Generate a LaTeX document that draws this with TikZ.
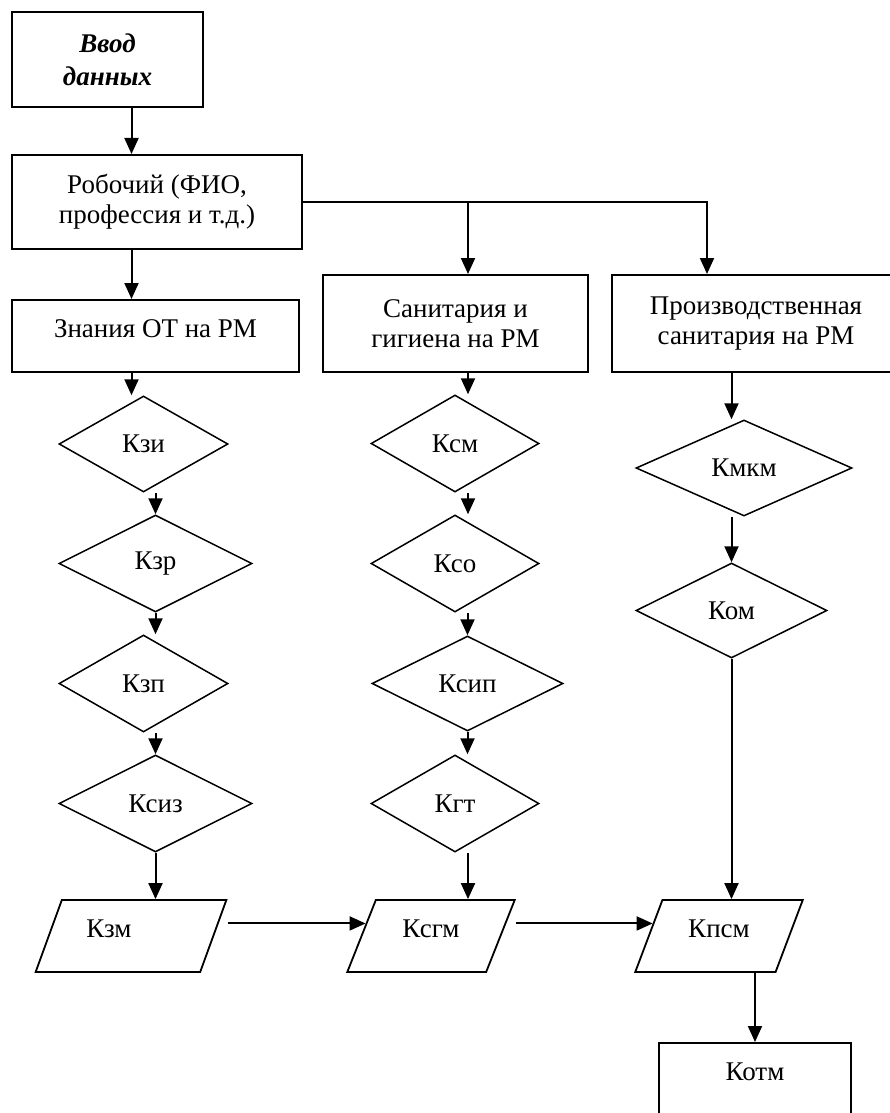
\documentclass[tikz,border=0pt]{standalone}
\usepackage{fontspec}
\setmainfont{Liberation Serif}
\usetikzlibrary{shapes.geometric, arrows.meta, calc}

\begin{document}
\begin{tikzpicture}[
    x=0.5pt, y=-0.5pt,
    every node/.style={font=\fontsize{13.5}{15}\selectfont},
    block/.style={rectangle, draw=black, line width=1pt, align=center, inner sep=2pt},
    check/.style={diamond, draw=black, line width=0.75pt, inner sep=0pt},
    result/.style={trapezium, trapezium stretches=true, draw=black, line width=0.9pt, inner sep=0pt, minimum height=36pt},
    arrow/.style={-{Triangle[length=8pt, width=7pt]}, line width=1pt},
]

\useasboundingbox (0,0) rectangle (889,1113);

% arrow columns
\coordinate (lc) at (131.5,0);
\coordinate (mc) at (468,0);
\coordinate (rc) at (707,0);

% Input
\node[block, minimum width=95.5pt, minimum height=47.5pt, font=\fontsize{13.5}{16.5}\selectfont\bfseries\itshape] (vvod) at (107.5,59.5) {Ввод\\данных};
\node[block, minimum width=145pt, minimum height=47pt] (rob) at (157,202) {Робочий (ФИО,\\профессия и т.д.)};

% Branches
\node[block, minimum width=143.5pt, minimum height=36pt, text depth=7pt] (zn) at (155.5,336) {Знания ОТ на РМ};
\node[block, minimum width=132.5pt, minimum height=48.5pt] (san) at (455.5,323.5) {Санитария и\\гигиена на РМ};
\node[block, minimum width=144pt, minimum height=48.5pt] (pro) at (756,323.5) {Производственная\\санитария на РМ};

% Left column
\node[check, minimum width=84.5pt, minimum height=48pt] (kzi) at (143.5,444) {Кзи};
\node[check, minimum width=96.5pt, minimum height=48.5pt] (kzr) at (155.5,563.5) {Кзр};
\node[check, minimum width=84.5pt, minimum height=48.5pt] (kzp) at (143.5,683.5) {Кзп};
\node[check, minimum width=96.5pt, minimum height=48.5pt] (ksiz) at (155.5,803.5) {Ксиз};

% Middle column
\node[check, minimum width=84pt, minimum height=48.5pt] (ksm) at (455,443.5) {Ксм};
\node[check, minimum width=84pt, minimum height=48.5pt] (kso) at (455,563.5) {Ксо};
\node[check, minimum width=95.5pt, minimum height=47.5pt] (ksip) at (467.5,683.5) {Ксип};
\node[check, minimum width=84pt, minimum height=48.5pt] (kgt) at (455,803.5) {Кгт};

% Right column
\node[check, minimum width=108pt, minimum height=48pt] (kmkm) at (744,468) {Кмкм};
\node[check, minimum width=95.5pt, minimum height=47.5pt] (kom) at (731.5,610.5) {Ком};

% Results
\node[result, trapezium left angle=62, trapezium right angle=118, minimum width=96pt, text depth=7pt] (kzm) at (131,936) {Кзм\hspace*{22pt}};
\node[result, trapezium left angle=65, trapezium right angle=115, minimum width=84pt, text depth=7pt] (ksgm) at (431,936) {Ксгм};
\node[result, trapezium left angle=65, trapezium right angle=115, minimum width=84pt, text depth=7pt] (kpsm) at (719,936) {Кпсм};
\node[block, minimum width=96pt, minimum height=38pt, text depth=9pt] (kotm) at (755,1081) {Котм};

% Connectors
\draw[arrow] (vvod.south -| lc) -- (rob.north -| lc);
\draw[arrow] (rob.south -| lc) -- (zn.north -| lc);
\draw[arrow] (rob.east) -| (pro.north -| rc);
\draw[arrow] (rob.east -| mc) -- (san.north -| mc);

\draw[arrow] (zn.south -| lc) -- (kzi.north -| lc);
\draw[arrow] (kzi.south -| kzr.north) -- (kzr.north);
\draw[arrow] (kzr.south) -- (kzp.north -| kzr.south);
\draw[arrow] (kzp.south -| ksiz.north) -- (ksiz.north);
\draw[arrow] (ksiz.south) -- (kzm.north -| ksiz.south);

\draw[arrow] (san.south -| mc) -- (ksm.north -| mc);
\draw[arrow] (ksm.south -| mc) -- (kso.north -| mc);
\draw[arrow] (kso.south -| ksip.north) -- (ksip.north);
\draw[arrow] (ksip.south) -- (kgt.north -| ksip.south);
\draw[arrow] (kgt.south -| mc) -- (ksgm.north -| mc);

\draw[arrow] (pro.south -| kom.north) -- (kmkm.north -| kom.north);
\draw[arrow] (kmkm.south -| kom.north) -- (kom.north);
\draw[arrow] (kom.south) -- (kpsm.north -| kom.south);

\coordinate (in2) at ($(ksgm.top left corner)!0.33!(ksgm.bottom left corner)$);
\coordinate (in3) at ($(kpsm.top left corner)!0.33!(kpsm.bottom left corner)$);
\draw[arrow] (kzm.top right corner |- in2) -- (in2);
\draw[arrow] (ksgm.top right corner |- in3) -- (in3);
\draw[arrow] (kpsm.south -| kotm.north) -- (kotm.north);

\end{tikzpicture}
\end{document}
